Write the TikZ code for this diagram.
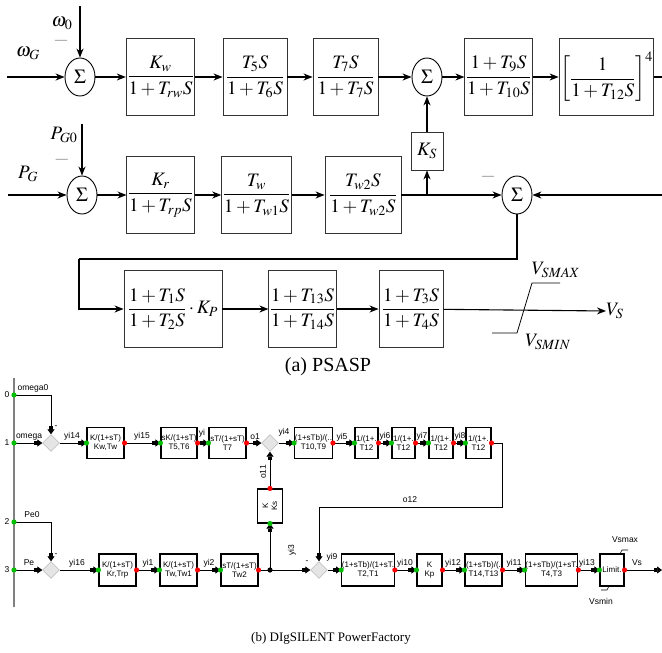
\documentclass[tikz,border=0pt]{standalone}
\usepackage{mathptmx}
\usepackage{fontspec}
\setmainfont{Liberation Serif}
\newfontfamily\dsf{Liberation Sans}
\usetikzlibrary{arrows.meta,shapes.geometric}
\begin{document}
\begin{tikzpicture}[x=1pt,y=-1pt,
  ln/.style={line width=1.1pt},
  arr/.style={line width=1.1pt,-{Stealth[length=9pt,width=7pt]}},
  blk/.style={draw=black!80,line width=0.9pt,minimum width=65pt,minimum height=77pt,inner sep=1pt,font=\fontsize{19}{22}\selectfont},
  sig/.style={draw,ellipse,line width=0.9pt,minimum width=30pt,minimum height=38pt,inner sep=0pt,font=\fontsize{20}{22}\selectfont},
  lab/.style={font=\fontsize{19}{22}\selectfont,inner sep=0pt},
  mns/.style={font=\fontsize{12}{12}\selectfont,text=black!60,inner sep=0pt},
  bb/.style={draw,line width=1.1pt,minimum height=31pt,inner sep=0.3pt,align=center,font=\dsf\fontsize{8}{9}\selectfont},
  dm/.style={diamond,draw=gray!70,fill=gray!20,minimum width=17pt,minimum height=17pt,inner sep=0pt},
  sl/.style={font=\dsf\fontsize{8.5}{9}\selectfont,inner sep=0.5pt},
  barr/.style={line width=0.7pt,-{Rectangle[length=3pt,width=4pt]Triangle[length=5pt,width=7pt]}},
  bln/.style={line width=0.7pt}
]
\useasboundingbox (0,0) rectangle (662,653);

% ================= (a) PSASP =================
% row 1
\node[sig] (s1) at (80,77) {$\Sigma$};
\node[blk] (kw) at (160.5,77) {$\displaystyle\frac{K_w}{1+T_{rw}S}$};
\node[blk,minimum width=64pt] (t5) at (255,77) {$\displaystyle\frac{T_5S}{1+T_6S}$};
\node[blk] (t7) at (345.5,77) {$\displaystyle\frac{T_7S}{1+T_7S}$};
\node[sig] (s3) at (427,77) {$\Sigma$};
\node[blk,minimum width=67pt] (t9) at (498.5,77) {$\displaystyle\frac{1+T_9S}{1+T_{10}S}$};
\node[blk,minimum width=91pt] (t12) at (606.5,77) {$\displaystyle\left[\frac{1}{1+T_{12}S}\right]^4$};
\node[lab] (wg) at (28,53) {$\omega_G$};
\node[lab] (w0) at (62,23) {$\omega_0$};
\node[mns] (m1) at (61,42) {—};
\coordinate (in1) at (7,77);
\coordinate (top1) at (80,6);
\coordinate (out1) at (662,77);
\draw[arr] (in1) -- (s1.west);
\draw[arr] (top1) -- (s1.north);
\draw[arr] (s1) -- (kw);
\draw[arr] (kw) -- (t5);
\draw[arr] (t5) -- (t7);
\draw[arr] (t7) -- (s3);
\draw[arr] (s3) -- (t9);
\draw[arr] (t9) -- (t12);
\draw[ln] (t12) -- (out1);

% row 2
\node[sig] (s2) at (82,195) {$\Sigma$};
\node[blk,minimum width=67pt] (kr) at (160.5,195) {$\displaystyle\frac{K_r}{1+T_{rp}S}$};
\node[blk,minimum width=67pt] (tw) at (256.5,195) {$\displaystyle\frac{T_w}{1+T_{w1}S}$};
\node[blk,minimum width=76pt] (tw2) at (363,195) {$\displaystyle\frac{T_{w2}S}{1+T_{w2}S}$};
\node[blk,minimum width=32pt,minimum height=38pt] (ks) at (427,151) {$K_S$};
\node[sig] (s4) at (517,195) {$\Sigma$};
\node[lab] (pg) at (28,174) {$P_G$};
\node[lab] (pg0) at (64,135) {$P_{G0}$};
\node[mns] (m2) at (62,161) {—};
\node[mns] (m3) at (488,178) {—};
\coordinate (in2) at (8,195);
\coordinate (top2) at (82,124);
\coordinate (tap) at (427,195);
\coordinate (fb) at (662,195);
\coordinate (c1) at (517,259);
\coordinate (c2) at (79,259);
\draw[arr] (in2) -- (s2.west);
\draw[arr] (top2) -- (s2.north);
\draw[arr] (s2) -- (kr);
\draw[arr] (kr) -- (tw);
\draw[arr] (tw) -- (tw2);
\draw[arr] (tw2) -- (s4);
\draw[arr] (tap) -- (ks.south);
\draw[arr] (ks.north) -- (s3.south);
\draw[arr] (fb) -- (s4.east);

% row 3
\node[blk,minimum width=98pt] (t1) at (173,309) {$\displaystyle\frac{1+T_1S}{1+T_2S}\cdot K_P$};
\node[blk,minimum width=67pt] (t13) at (302.5,309) {$\displaystyle\frac{1+T_{13}S}{1+T_{14}S}$};
\node[blk,minimum width=64pt] (t3) at (411,309) {$\displaystyle\frac{1+T_3S}{1+T_4S}$};
\node[lab,anchor=west] (vs) at (606,311) {$V_S$};
\node[lab] (vmax) at (556,270) {$V_{SMAX}$};
\node[lab] (vmin) at (548,342) {$V_{SMIN}$};
\draw[ln] (s4.south) -- (c1) -- (c2);
\draw[arr] (c2) |- (t1.west);
\draw[arr] (t1) -- (t13);
\draw[arr] (t13) -- (t3);
\draw[arr] (t3) -- (vs.west);
\draw[line width=0.8pt] (492,333) -- (517,333) -- (532,283) -- (560,283);

\node[font=\fontsize{20}{24}\selectfont] (capa) at (328,367) {(a) PSASP};

% ================= (b) DIgSILENT =================
\draw[gray,line width=2pt] (14,378) -- (14,607);
\coordinate (p0) at (14,395);
\coordinate (p1) at (14,443);
\coordinate (p2) at (14,522);
\coordinate (p3) at (14,570);
\node[sl] at (7,395) {0};
\node[sl] at (7,443) {1};
\node[sl] at (7,522) {2};
\node[sl] at (7,570) {3};
\node[sl] at (33,388) {omega0};
\node[sl] at (29,437) {omega};
\node[sl] at (32,515) {Pe0};
\node[sl] at (29,563) {Pe};

% row 1 (b)
\node[dm] (dm1) at (51,443) {};
\node[bb,minimum width=37pt] (kwb) at (105.5,443) {K/(1+sT)\\Kw,Tw};
\node[bb,minimum width=36pt] (t5b) at (179,443) {sK/(1+sT)\\T5,T6};
\node[bb,minimum width=37pt] (t7b) at (227.5,443) {sT/(1+sT)\\T7};
\node[dm] (dm2) at (270,443) {};
\node[bb,minimum width=37pt] (t10b) at (313.5,443) {(1+sTb)/(..\\T10,T9};
\node[bb,minimum width=23pt] (t12a) at (366.5,443) {1/(1+.\\T12};
\node[bb,minimum width=23pt] (t12b) at (403.5,443) {1/(1+.\\T12};
\node[bb,minimum width=24pt] (t12c) at (441,443) {1/(1+.\\T12};
\node[bb,minimum width=25pt] (t12d) at (478.5,443) {1/(1+.\\T12};
\node[bb,rotate=90,minimum width=34pt,minimum height=25pt] (ksb) at (270,506) {K\\Ks};

% row 2 (b)
\node[dm] (dm3) at (51,570) {};
\node[bb,minimum width=37pt,minimum height=32pt] (krb) at (117.5,570) {K/(1+sT)\\Kr,Trp};
\node[bb,minimum width=37pt,minimum height=32pt] (twb) at (178.5,570) {K/(1+sT)\\Tw,Tw1};
\node[bb,minimum width=37pt,minimum height=32pt] (tw2b) at (239.5,570) {sT/(1+sT)\\Tw2};
\coordinate (jn) at (270,570);
\node[dm] (dm4) at (319,570) {};
\node[bb,minimum width=50pt,minimum height=32pt] (t2b) at (368,570) {(1+sTb)/(1+sT.\\T2,T1};
\node[bb,minimum width=25pt,minimum height=32pt] (kpb) at (429.5,570) {K\\Kp};
\node[bb,minimum width=37pt,minimum height=32pt] (t14b) at (483.5,570) {(1+sTb)/(.\\T14,T13};
\node[bb,minimum width=49pt,minimum height=32pt] (t4b) at (551.5,570) {(1+sTb)/(1+sT.\\T4,T3};
\node[bb,minimum width=24pt,minimum height=32pt] (limb) at (612,570) {Limit.};
\coordinate (c3) at (502,443);
\coordinate (c4) at (502,507);
\coordinate (out2) at (662,570);

% connectors (b)
\draw[barr] (p0) -| (dm1.north);
\draw[barr] (p1) -- (dm1.west);
\draw[barr] (dm1.east) -- (kwb.west);
\draw[barr] (kwb.east) -- (t5b.west);
\draw[barr] (t5b.east) -- (t7b.west);
\draw[barr] (t7b.east) -- (dm2.west);
\draw[barr] (dm2.east) -- (t10b.west);
\draw[barr] (t10b.east) -- (t12a.west);
\draw[barr] (t12a.east) -- (t12b.west);
\draw[barr] (t12b.east) -- (t12c.west);
\draw[barr] (t12c.east) -- (t12d.west);
\draw[barr] (t12d.east) -- (c3) -- (c4) -| (dm4.north);
\draw[barr] (ksb.east) -- (dm2.south);
\draw[barr] (jn) -- (ksb.west);
\draw[barr] (p2) -| (dm3.north);
\draw[barr] (p3) -- (dm3.west);
\draw[barr] (dm3.east) -- (krb.west);
\draw[barr] (krb.east) -- (twb.west);
\draw[barr] (twb.east) -- (tw2b.west);
\draw[bln] (tw2b.east) -- (jn);
\draw[barr] (jn) -- (dm4.west);
\draw[barr] (dm4.east) -- (t2b.west);
\draw[barr] (t2b.east) -- (kpb.west);
\draw[barr] (kpb.east) -- (t14b.west);
\draw[barr] (t14b.east) -- (t4b.west);
\draw[barr] (t4b.east) -- (limb.west);
\draw[barr] (limb.east) -- (out2);
\draw[line width=0.6pt] (620,554) -- (622,550) -- (628,550);
\draw[line width=0.6pt] (601,590) -- (607,590) -- (609,586);

% dots
\foreach \n in {p0,p1,p2,p3,kwb.west,t5b.west,t7b.west,t10b.west,t12a.west,t12b.west,t12c.west,t12d.west,ksb.west,krb.west,twb.west,tw2b.west,t2b.west,kpb.west,t14b.west,t4b.west,limb.west}
  \fill[green!75!black] (\n) circle (2.6pt);
\foreach \n in {kwb.east,t5b.east,t7b.east,t10b.east,t12a.east,t12b.east,t12c.east,t12d.east,ksb.east,krb.east,twb.east,tw2b.east,t2b.east,kpb.east,t14b.east,t4b.east,limb.east}
  \fill[red] (\n) circle (2.6pt);
\fill (jn) circle (2.6pt);

% labels (b)
\node[sl] at (56,427) {-};
\node[sl] at (56,555) {-};
\node[sl] at (307,562) {-};
\node[sl] at (72,436) {yi14};
\node[sl] at (142,436) {yi15};
\node[sl] at (202,433) {yi};
\node[sl] at (255,437) {o1};
\node[sl] at (284,432) {yi4};
\node[sl] at (342,437) {yi5};
\node[sl] at (385,436) {yi6};
\node[sl] at (422,436) {yi7};
\node[sl] at (460,436) {yi8};
\node[sl] at (410,500) {o12};
\node[sl,rotate=90] at (263,472) {o11};
\node[sl,rotate=90] at (292,550) {yi3};
\node[sl] at (77,563) {yi16};
\node[sl] at (148,563) {yi1};
\node[sl] at (209,563) {yi2};
\node[sl] at (332,557) {yi9};
\node[sl] at (405,563) {yi10};
\node[sl] at (453,563) {yi12};
\node[sl] at (514,563) {yi11};
\node[sl] at (587,563) {yi13};
\node[sl] at (637,563) {Vs};
\node[sl] at (625,540) {Vsmax};
\node[sl] at (601,601) {Vsmin};

\node[font=\fontsize{13}{15}\selectfont] (capb) at (331,638) {(b) DIgSILENT PowerFactory};
\end{tikzpicture}
\end{document}
